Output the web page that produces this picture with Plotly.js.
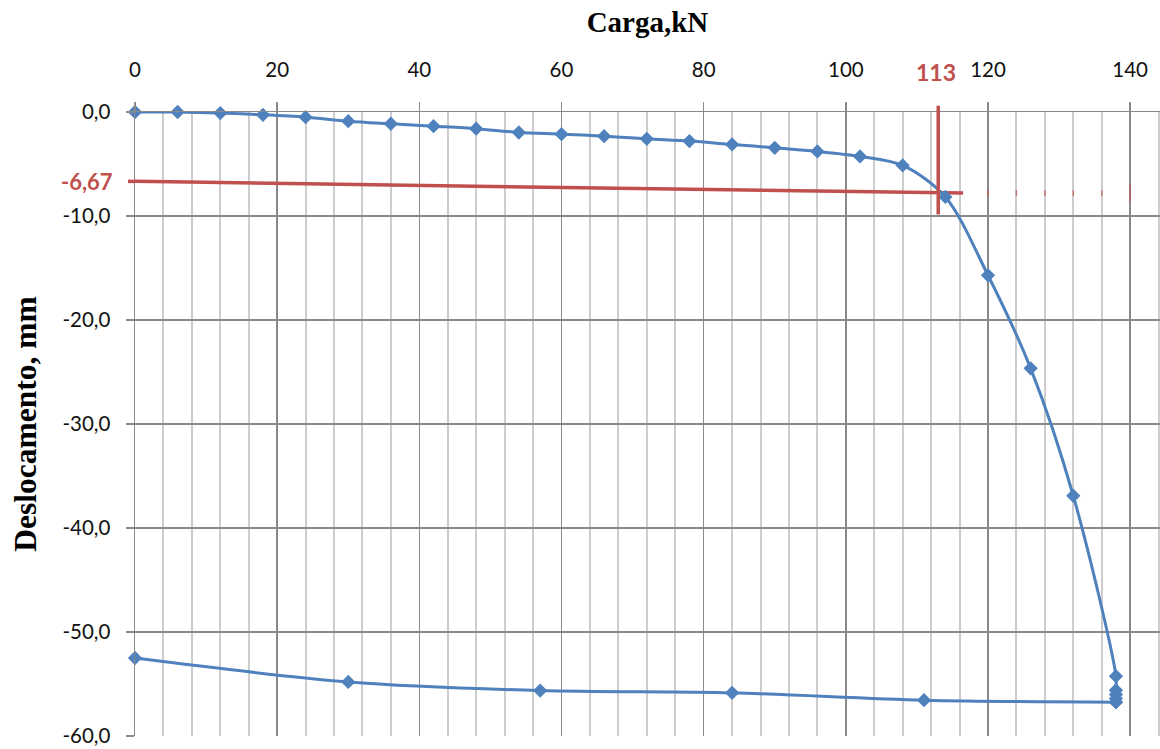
<!DOCTYPE html>
<html>
<head>
<meta charset="utf-8">
<script src="https://cdn.plot.ly/plotly-3.0.1.min.js"></script>
<style>
  html, body { margin: 0; padding: 0; background: #fff; }
  #chart { width: 1160px; height: 749px; }
</style>
</head>
<body>
<div id="chart"></div>
<script>
// Load test: applied load (kN) and measured settlement (mm), loading then unloading
const cargaKN = [0, 6, 12, 18, 24, 30, 36, 42, 48, 54, 60, 66, 72, 78, 84, 90, 96, 102, 108, 114, 120, 126, 132,
                 138, 138, 138, 138, 138,
                 111, 84, 57, 30, 0];
const deslocamentoMM = [0, 0, -0.1, -0.27, -0.5, -0.88, -1.13, -1.36, -1.6, -1.97, -2.13, -2.32, -2.58, -2.8, -3.12, -3.44, -3.79, -4.27, -5.14, -8.17, -15.7, -24.65, -36.9,
                        -54.25, -55.6, -56.0, -56.4, -56.75,
                        -56.56, -55.85, -55.63, -54.8, -52.5];
// index of the last reading taken at peak load (start of unloading)
const inicioDescarga = 27;

// Offset (reference) line and the failure load it defines
const offsetLineX = [0, 116.5];
const offsetLineY = [-6.67, -7.8];
const offsetExtX = [120, 124, 128, 132, 136, 140];
const offsetExtY = [-7.8, -7.8, -7.8, -7.8, -7.8, -7.8];
const cargaRuptura = 113;
const rupturaSpanY = [-9.85, 0.6];
const offsetInicial = -6.67;

// Axes
const xTickStep = 20;
const xMinorStep = 4;
const yTickVals = [0, -10, -20, -30, -40, -50, -60];
const yTickText = ['0,0', '-10,0', '-20,0', '-30,0', '-40,0', '-50,0', '-60,0'];
const xRange = [0, 144.2];
const yRange = [-60, 0];

const BLUE = '#4F81BD';
const RED = '#C0504D';
const GRID_MAJOR = '#8a8a8a';
const GRID_MINOR = '#cdcdcd';
const TICK_FONT = { family: 'Lato, "Open Sans", sans-serif', size: 20.5, color: '#111' };
const SERIF = '"Liberation Serif", "Times New Roman", serif';

const toPaperY = v => (v - yRange[0]) / (yRange[1] - yRange[0]);

const serie = {
  mode: 'lines+markers', type: 'scatter', cliponaxis: false,
  line: { color: BLUE, width: 3, shape: 'spline', smoothing: 0.9 },
  marker: { symbol: 'diamond', size: 11, color: BLUE },
  showlegend: false
};

const traces = [
  {
    x: offsetLineX, y: offsetLineY, mode: 'lines', type: 'scatter',
    line: { color: RED, width: 3.5 }, hoverinfo: 'skip', showlegend: false
  },
  {
    x: offsetExtX, y: offsetExtY, mode: 'markers', type: 'scatter', cliponaxis: false,
    marker: { symbol: 'line-ns', size: [4, 4, 4, 4, 4, 12], line: { color: RED, width: 1.5 } },
    hoverinfo: 'skip', showlegend: false
  },
  // loading branch
  Object.assign({}, serie, {
    x: cargaKN.slice(0, inicioDescarga + 1), y: deslocamentoMM.slice(0, inicioDescarga + 1)
  }),
  // unloading branch
  Object.assign({}, serie, {
    x: cargaKN.slice(inicioDescarga), y: deslocamentoMM.slice(inicioDescarga)
  })
];

const layout = {
  width: 1160, height: 749,
  margin: { l: 135, r: 0, t: 111.5, b: 12.5, pad: 0 },
  paper_bgcolor: '#fff', plot_bgcolor: '#fff',
  separators: ',.',
  showlegend: false,
  xaxis: {
    side: 'top', range: xRange, tickmode: 'linear', tick0: 0, dtick: xTickStep,
    ticks: 'outside', ticklen: 9, tickwidth: 1.5, tickcolor: GRID_MAJOR,
    showgrid: true, gridcolor: GRID_MAJOR, gridwidth: 1.5,
    minor: { tickmode: 'linear', tick0: 0, dtick: xMinorStep, showgrid: true, gridcolor: GRID_MINOR, gridwidth: 2, ticks: '' },
    showline: true, linecolor: GRID_MAJOR, linewidth: 1.5,
    zeroline: false, tickfont: TICK_FONT, ticklabelstandoff: 16,
    title: { text: 'Carga,kN', standoff: 16,
             font: { family: SERIF, size: 29, color: '#000', weight: 'bold' } }
  },
  yaxis: {
    range: yRange, tickmode: 'array', tickvals: yTickVals, ticktext: yTickText,
    ticks: 'outside', ticklen: 8, tickwidth: 1.5, tickcolor: GRID_MAJOR,
    showgrid: true, gridcolor: GRID_MAJOR, gridwidth: 1.5,
    showline: true, linecolor: GRID_MAJOR, linewidth: 1.5,
    zeroline: false, tickfont: TICK_FONT, ticklabelstandoff: 11,
    title: { text: 'Deslocamento, mm', standoff: 16,
             font: { family: SERIF, size: 31.5, color: '#000', weight: 'bold' } }
  },
  shapes: [
    // vertical marker at the failure load, reaching above the axis
    { type: 'line', xref: 'x', yref: 'paper', x0: cargaRuptura, x1: cargaRuptura,
      y0: toPaperY(rupturaSpanY[0]), y1: toPaperY(rupturaSpanY[1]),
      line: { color: RED, width: 3.5 }, layer: 'above' },
    // small red tick left of the axis at the offset value
    { type: 'line', xref: 'paper', xsizemode: 'pixel', xanchor: 0, x0: -7, x1: 0,
      yref: 'y', y0: offsetInicial, y1: offsetInicial,
      line: { color: RED, width: 3.5 }, layer: 'above' }
  ],
  annotations: [
    { xref: 'x', yref: 'paper', x: cargaRuptura, y: 1, yshift: 40, xshift: -2,
      text: '<b>' + String(cargaRuptura) + '</b>', showarrow: false, xanchor: 'center', yanchor: 'middle',
      font: { family: 'Lato, sans-serif', size: 23, color: RED } },
    { xref: 'paper', yref: 'y', x: 0, y: offsetInicial, xshift: -20,
      text: '<b>' + String(offsetInicial).replace('.', ',') + '</b>', showarrow: false, xanchor: 'right', yanchor: 'middle',
      font: { family: 'Lato, sans-serif', size: 22, color: RED } }
  ]
};

Plotly.newPlot('chart', traces, layout, { displayModeBar: false, staticPlot: true });
</script>
</body>
</html>
